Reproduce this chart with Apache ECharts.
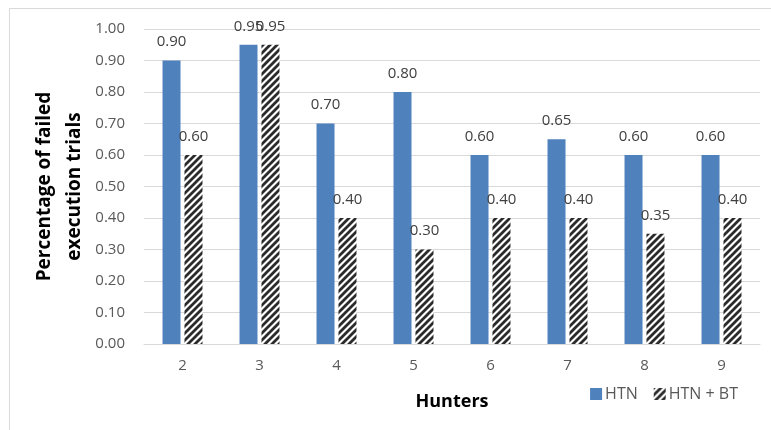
<!DOCTYPE html>
<html>
<head>
<meta charset="utf-8">
<script src="https://cdn.jsdelivr.net/npm/echarts@6/dist/echarts.min.js"></script>
<style>
  html, body { margin: 0; padding: 0; background: #fff; }
  #chart { width: 771px; height: 430px; }
</style>
</head>
<body>
<div id="chart"></div>
<script>
// Failed execution trials per number of hunters
const hunters = ['2', '3', '4', '5', '6', '7', '8', '9'];
const htn     = [0.90, 0.95, 0.70, 0.80, 0.60, 0.65, 0.60, 0.60];
const htnBt   = [0.60, 0.95, 0.40, 0.30, 0.40, 0.40, 0.35, 0.40];
const yTicks  = { min: 0, max: 1, interval: 0.1 };

// Diagonal hatch tile for the HTN + BT bars
function hatchTile() {
  const s = 7;
  const c = document.createElement('canvas');
  c.width = s; c.height = s;
  const g = c.getContext('2d');
  g.fillStyle = '#ffffff';
  g.fillRect(0, 0, s, s);
  g.strokeStyle = '#2b2b2b';
  g.lineWidth = 2.8;
  g.lineCap = 'square';
  for (const off of [-s, 0, s]) {
    g.beginPath();
    g.moveTo(off, s);
    g.lineTo(off + s, 0);
    g.stroke();
  }
  return c;
}
const hatch = { image: hatchTile(), repeat: 'repeat' };

const font = 'Open Sans, Liberation Sans, sans-serif';
const labelStyle = {
  show: true,
  position: 'top',
  distance: 11,
  color: '#404040',
  fontFamily: font,
  fontSize: 15,
  formatter: p => p.value.toFixed(2)
};

const chart = echarts.init(document.getElementById('chart'), null, { renderer: 'canvas' });
chart.setOption({
  animation: false,
  backgroundColor: '#ffffff',
  graphic: [{
    type: 'rect',
    shape: { x: 9.5, y: 8.5, width: 800, height: 500 },
    style: { fill: 'none', stroke: '#d9d9d9', lineWidth: 1 },
    silent: true
  }],
  grid: { left: 144, right: 11, top: 29, bottom: 86, containLabel: false },
  legend: {
    right: 28,
    top: 381,
    itemWidth: 12,
    itemHeight: 12,
    itemGap: 16,
    icon: 'rect',
    textStyle: { color: '#595959', fontFamily: font, fontSize: 16, padding: [0, 0, 0, -2] },
    data: ['HTN', 'HTN + BT']
  },
  xAxis: {
    type: 'category',
    data: hunters,
    name: 'Hunters',
    nameLocation: 'middle',
    nameGap: 49,
    nameMoveOverlap: false,
    nameTextStyle: { color: '#000', fontFamily: font, fontSize: 18, fontWeight: 'bold' },
    axisLine: { lineStyle: { color: '#d9d9d9', width: 1 } },
    axisTick: { show: false },
    axisLabel: { color: '#595959', fontFamily: font, fontSize: 15, margin: 14 }
  },
  yAxis: {
    type: 'value',
    min: yTicks.min,
    max: yTicks.max,
    interval: yTicks.interval,
    name: 'Percentage of failed\nexecution trials',
    nameLocation: 'middle',
    nameGap: 54,
    nameMoveOverlap: false,
    nameRotate: 90,
    nameTextStyle: { color: '#000', fontFamily: font, fontSize: 19, fontWeight: 'bold', lineHeight: 30 },
    axisLine: { show: false },
    axisTick: { show: false },
    splitLine: { lineStyle: { color: '#d9d9d9', width: 1 } },
    axisLabel: { color: '#595959', fontFamily: font, fontSize: 15, margin: 19, formatter: v => v.toFixed(2) }
  },
  series: [
    {
      name: 'HTN',
      type: 'bar',
      data: htn,
      barWidth: 18,
      barGap: '22%',
      itemStyle: { color: '#4f81bd' },
      label: labelStyle
    },
    {
      name: 'HTN + BT',
      type: 'bar',
      data: htnBt,
      barWidth: 18,
      barGap: '22%',
      itemStyle: { color: hatch },
      label: labelStyle
    }
  ]
});
</script>
</body>
</html>
